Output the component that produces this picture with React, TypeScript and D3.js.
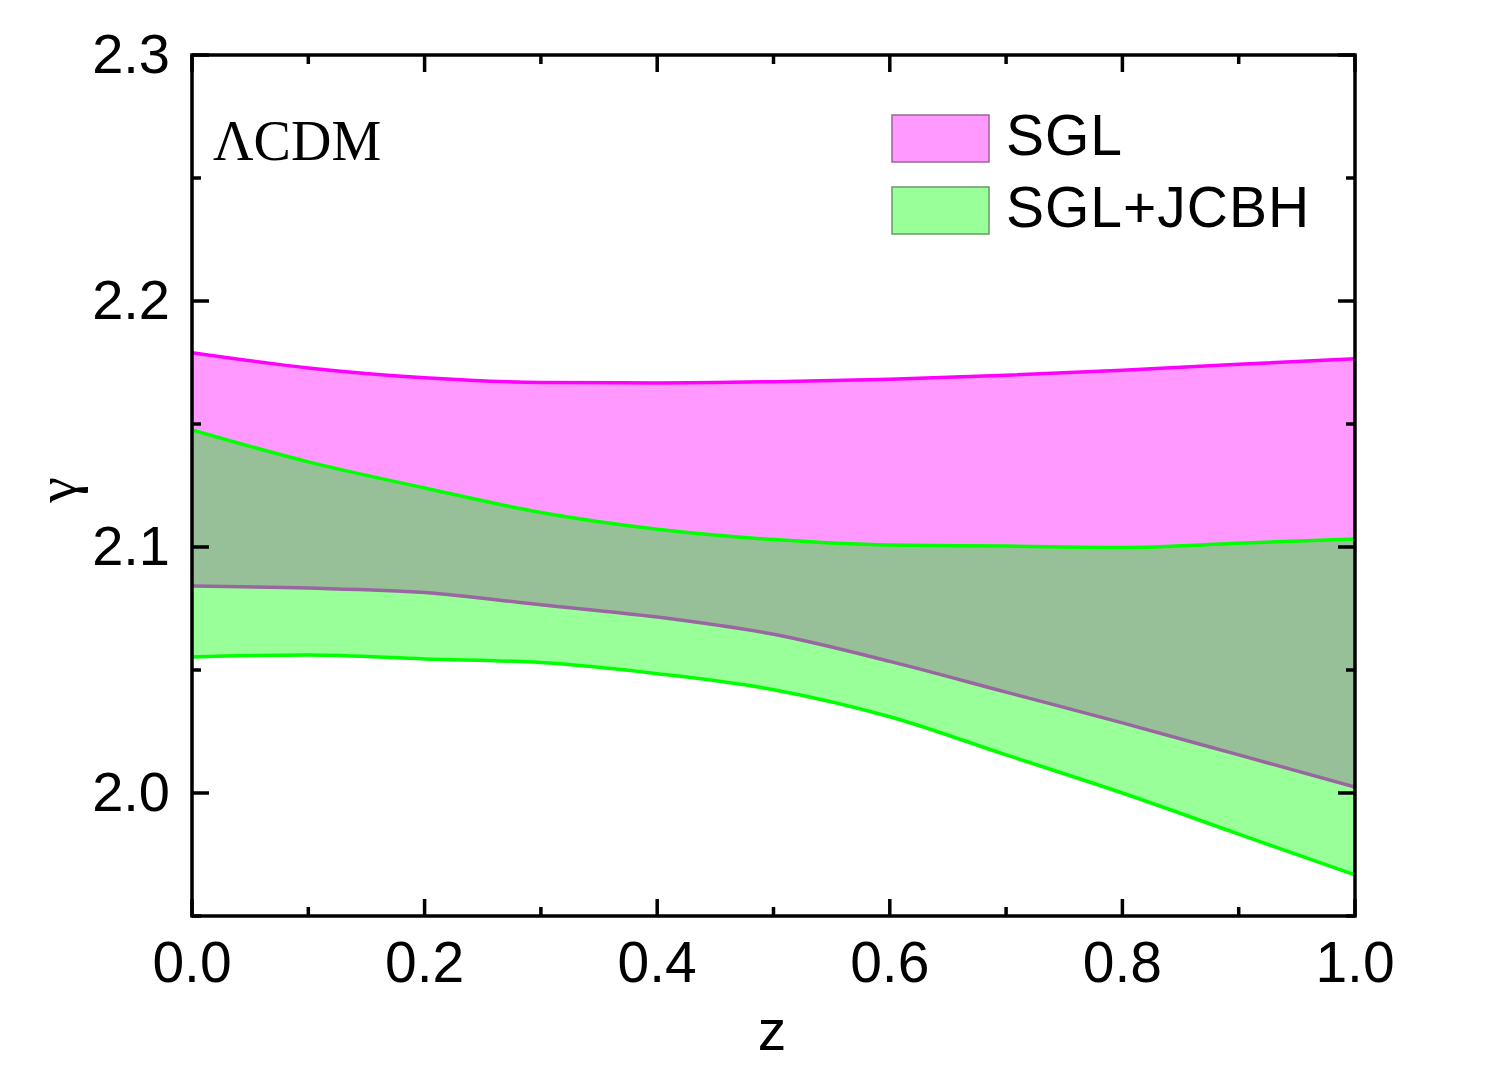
import React from 'react';
import * as d3 from 'd3';

// redshift grid shared by all bands
const zValues = [0, 0.1, 0.2, 0.3, 0.4, 0.5, 0.6, 0.7, 0.8, 0.9, 1.0];

// SGL band
const sglUpper = [2.179, 2.1728, 2.1688, 2.1669, 2.1667, 2.1672, 2.1682, 2.1698, 2.1718, 2.1743, 2.1765];
const sglLower = [2.0841, 2.0833, 2.0815, 2.0765, 2.0715, 2.0645, 2.0535, 2.041, 2.0285, 2.0155, 2.0024];

// SGL+JCBH band
const jcbhUpper = [2.1476, 2.1346, 2.124, 2.114, 2.1072, 2.103, 2.1008, 2.1004, 2.0998, 2.1015, 2.1033];
const jcbhLower = [2.0553, 2.0561, 2.0545, 2.053, 2.0485, 2.042, 2.031, 2.0155, 2.0, 1.9833, 1.9667];

const xTicks = [0, 0.2, 0.4, 0.6, 0.8, 1.0];
const xMinor = [0.1, 0.3, 0.5, 0.7, 0.9];
const yTicks = [2.0, 2.1, 2.2, 2.3];
const yMinor = [1.95, 2.05, 2.15, 2.25];

const legendItems = [
  { label: 'SGL', fill: '#ff99ff', stroke: '#996699' },
  { label: 'SGL+JCBH', fill: '#99ff99', stroke: '#669966' },
];

const W = 1505;
const H = 1083;
const left = 192;
const right = 1355;
const top = 55;
const bottom = 916;

export default function App() {
  const x = d3.scaleLinear().domain([0, 1]).range([left, right]);
  const y = d3.scaleLinear().domain([1.95, 2.3]).range([bottom, top]);

  const band = (hi: number[], lo: number[]) =>
    d3
      .area<number>()
      .x((_, i) => x(zValues[i]))
      .y0((_, i) => y(lo[i]))
      .y1((_, i) => y(hi[i]))
      .curve(d3.curveMonotoneX)(zValues) || '';

  const line = (vals: number[]) =>
    d3
      .line<number>()
      .x((_, i) => x(zValues[i]))
      .y((_, i) => y(vals[i]))
      .curve(d3.curveMonotoneX)(zValues) || '';

  const sans = '"Liberation Sans", Arial, Helvetica, sans-serif';
  const serif = '"Liberation Serif", "Times New Roman", serif';

  return (
    <svg width={W} height={H} style={{ position: 'absolute', left: 0, top: 0 }}>
      <rect width={W} height={H} fill="#fff" />
      <defs>
        <clipPath id="plot">
          <rect x={left} y={top} width={right - left} height={bottom - top} />
        </clipPath>
      </defs>

      <g clipPath="url(#plot)">
        <path d={band(sglUpper, sglLower)} fill="#ff99ff" />
        <path d={band(jcbhUpper, jcbhLower)} fill="#99ff99" />
        {/* overlap of the two bands */}
        <path d={band(jcbhUpper, sglLower)} fill="#98c098" />
        <path d={line(sglUpper)} fill="none" stroke="#ff00ff" strokeWidth={3.5} />
        <path d={line(jcbhUpper)} fill="none" stroke="#00ff00" strokeWidth={3.5} />
        <path d={line(jcbhLower)} fill="none" stroke="#00ff00" strokeWidth={3.5} />
        <path d={line(sglLower)} fill="none" stroke="#9966a0" strokeWidth={3.5} />
      </g>

      {/* frame and inward ticks */}
      <rect x={left} y={top} width={right - left} height={bottom - top} fill="none" stroke="#000" strokeWidth={3.5} />
      {xTicks.map((t) => (
        <g key={'xt' + t}>
          <line x1={x(t)} x2={x(t)} y1={bottom} y2={bottom - 17} stroke="#000" strokeWidth={3.5} />
          <line x1={x(t)} x2={x(t)} y1={top} y2={top + 17} stroke="#000" strokeWidth={3.5} />
          <text x={x(t)} y={982} textAnchor="middle" fontFamily={sans} fontSize={57}>
            {t.toFixed(1)}
          </text>
        </g>
      ))}
      {xMinor.map((t) => (
        <g key={'xm' + t}>
          <line x1={x(t)} x2={x(t)} y1={bottom} y2={bottom - 9} stroke="#000" strokeWidth={3.5} />
          <line x1={x(t)} x2={x(t)} y1={top} y2={top + 9} stroke="#000" strokeWidth={3.5} />
        </g>
      ))}
      {yTicks.map((t) => (
        <g key={'yt' + t}>
          <line x1={left} x2={left + 17} y1={y(t)} y2={y(t)} stroke="#000" strokeWidth={3.5} />
          <line x1={right} x2={right - 17} y1={y(t)} y2={y(t)} stroke="#000" strokeWidth={3.5} />
          <text x={170} y={y(t) + 18} textAnchor="end" fontFamily={sans} fontSize={56}>
            {t.toFixed(1)}
          </text>
        </g>
      ))}
      {yMinor.map((t) => (
        <g key={'ym' + t}>
          <line x1={left} x2={left + 9} y1={y(t)} y2={y(t)} stroke="#000" strokeWidth={3.5} />
          <line x1={right} x2={right - 9} y1={y(t)} y2={y(t)} stroke="#000" strokeWidth={3.5} />
        </g>
      ))}

      {/* axis titles */}
      <text x={772} y={1050} textAnchor="middle" fontFamily={sans} fontSize={57}>
        z
      </text>
      <text
        transform="translate(76,490) rotate(-90)"
        textAnchor="middle"
        fontFamily={serif}
        fontSize={58}
      >
        γ
      </text>

      <text x={213} y={160} fontFamily={serif} fontSize={56}>
        ΛCDM
      </text>

      {/* legend */}
      {legendItems.map((d, i) => (
        <g key={d.label} transform={`translate(892,${115 + i * 72})`}>
          <rect width={97} height={47} fill={d.fill} stroke={d.stroke} strokeWidth={1.5} />
          <text x={114} y={40} fontFamily={sans} fontSize={57} letterSpacing={1}>
            {d.label}
          </text>
        </g>
      ))}
    </svg>
  );
}
